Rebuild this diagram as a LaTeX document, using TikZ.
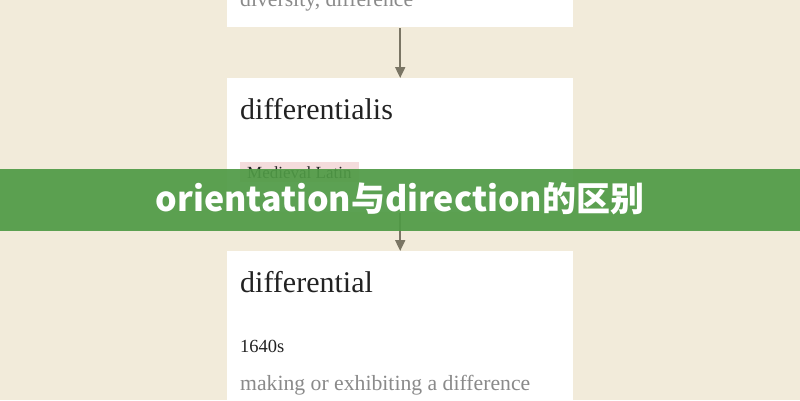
\documentclass[tikz,border=0pt]{standalone}
\usepackage{fontspec}
\setmainfont{Liberation Serif}
\newfontfamily\cjk{Noto Sans CJK SC}
\usetikzlibrary{arrows.meta}
\definecolor{bgcream}{HTML}{F2EBDA}
\definecolor{bannergreen}{HTML}{4F9A45}
\definecolor{arrowgrey}{HTML}{7A7564}
\definecolor{tagpink}{HTML}{F4DCDC}
\definecolor{greytext}{HTML}{8A8A8A}
\definecolor{darktext}{HTML}{222222}
\tikzset{
  card/.style={fill=white, draw=none},
  headword/.style={anchor=base west, inner sep=0pt, font=\fontsize{30}{34}\selectfont, text=darktext},
  gloss/.style={anchor=base west, inner sep=0pt, font=\fontsize{21.7}{25}\selectfont, text=greytext},
  dateword/.style={anchor=base west, inner sep=0pt, font=\fontsize{18.5}{22}\selectfont, text=darktext},
  flow/.style={draw=arrowgrey, line width=1.9pt, -{Triangle[length=11pt,width=10pt]}},
  tag/.style={anchor=base west, fill=tagpink, font=\fontsize{17}{19}\selectfont, text=darktext, inner xsep=7pt, inner ysep=4pt}
}
\begin{document}
\begin{tikzpicture}[x=1pt,y=-1pt]
\fill[bgcream] (0,0) rectangle (800,400);
\useasboundingbox (0,0) rectangle (800,400);
% cards
\node[card, minimum width=346pt, minimum height=40pt, anchor=south west] (c1) at (227,27) {};
\node[card, minimum width=346pt, minimum height=134pt, anchor=north west] (c2) at (227,78) {};
\node[card, minimum width=346pt, minimum height=160pt, anchor=north west] (c3) at (227,251) {};
% texts
\node[gloss] (g1) at (240,6) {diversity, difference};
\node[headword] (h2) at (240,119) {differentialis};
\node[tag] (t2) at (240,178) {Medieval Latin};
\node[headword] (h3) at (240,292) {differential};
\node[dateword] (d3) at (240,352) {1640s};
\node[gloss] (g3) at (240,390) {making or exhibiting a difference};
% arrows
\draw[flow] (c1.south) ++(0,1) coordinate (a1s) -- (c2.north);
\draw[flow] (c2.south) ++(0,1) -- (c3.north);
% banner
\fill[bannergreen, opacity=0.92] (0,169) rectangle (800,231);
\node[inner sep=0pt, text=white, font=\cjk\bfseries\fontsize{34}{38}\selectfont] (title) at (400,199) {orientation与direction的区别};
\end{tikzpicture}
\end{document}
